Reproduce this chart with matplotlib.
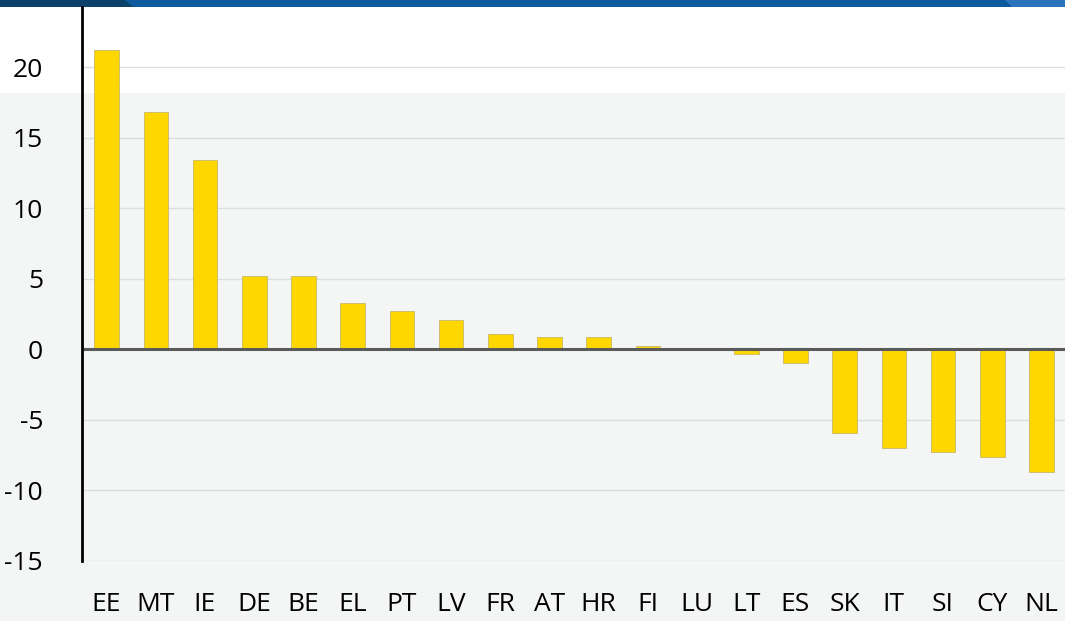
import matplotlib
matplotlib.use("Agg")
import matplotlib.pyplot as plt
from matplotlib.patches import Rectangle, Polygon

countries = ["EE", "MT", "IE", "DE", "BE", "EL", "PT", "LV", "FR", "AT",
             "HR", "FI", "LU", "LT", "ES", "SK", "IT", "SI", "CY", "NL"]
values = [21.2, 16.8, 13.4, 5.2, 5.2, 3.3, 2.7, 2.05, 1.05, 0.9,
          0.9, 0.25, 0.05, -0.35, -1.0, -5.9, -7.0, -7.3, -7.6, -8.7]
yticks = [-15, -10, -5, 0, 5, 10, 15, 20]

W, H = 1065, 621
fig = plt.figure(figsize=(W / 100, H / 100), dpi=100)
fig.patch.set_facecolor("#f4f6f5")

# white upper band
fig.patches.append(Rectangle((0, 1 - 93 / H), 1, 93 / H, transform=fig.transFigure,
                             facecolor="white", edgecolor="none", zorder=-3))
# top blue strip
fig.patches.append(Rectangle((0, 1 - 7 / H), 1, 7 / H, transform=fig.transFigure,
                             facecolor="#0d5a9e", edgecolor="none", zorder=-2))
fig.patches.append(Polygon([(0, 1), (125 / W, 1), (133 / W, 1 - 7 / H), (0, 1 - 7 / H)],
                           closed=True, transform=fig.transFigure,
                           facecolor="#0c4169", edgecolor="none", zorder=-1))
fig.patches.append(Polygon([(1005 / W, 1), (W / W, 1), (1, 1 - 7 / H), (1012 / W, 1 - 7 / H)],
                           closed=True, transform=fig.transFigure,
                           facecolor="#2a74bd", edgecolor="none", zorder=-1))

ax_left, ax_right = 82, 1066
ax_top, ax_bot = 7, 561
ax = fig.add_axes([ax_left / W, 1 - ax_bot / H, (ax_right - ax_left) / W, (ax_bot - ax_top) / H])
ax.patch.set_alpha(0)
ax.set_zorder(5)

x = list(range(len(countries)))
ax.bar(x, values, width=0.5, color="#ffd700", edgecolor="#c9b868", linewidth=0.6, zorder=3)

ax.set_xlim(-0.5, len(countries) - 0.5)
top_val = (349 - 7) / 14.1
ax.set_ylim(-15, top_val)
ax.set_yticks(yticks)
ax.set_yticklabels([str(v) for v in yticks])
ax.set_xticks(x)
ax.set_xticklabels(countries)
ax.tick_params(axis="both", length=0, labelsize=19, colors="black")
ax.tick_params(axis="y", pad=28)
ax.tick_params(axis="x", pad=22)
for lab in ax.get_xticklabels() + ax.get_yticklabels():
    lab.set_fontfamily("Open Sans")

ax.grid(axis="y", color="#dadedd", linewidth=1, zorder=0)
ax.axhline(0, color="#5a5a5a", linewidth=2.2, zorder=4)

for s in ["top", "right", "bottom"]:
    ax.spines[s].set_visible(False)
ax.spines["left"].set_color("black")
ax.spines["left"].set_linewidth(2)
ax.spines["left"].set_zorder(5)

fig.savefig("out.png", dpi=100, facecolor=fig.get_facecolor())
